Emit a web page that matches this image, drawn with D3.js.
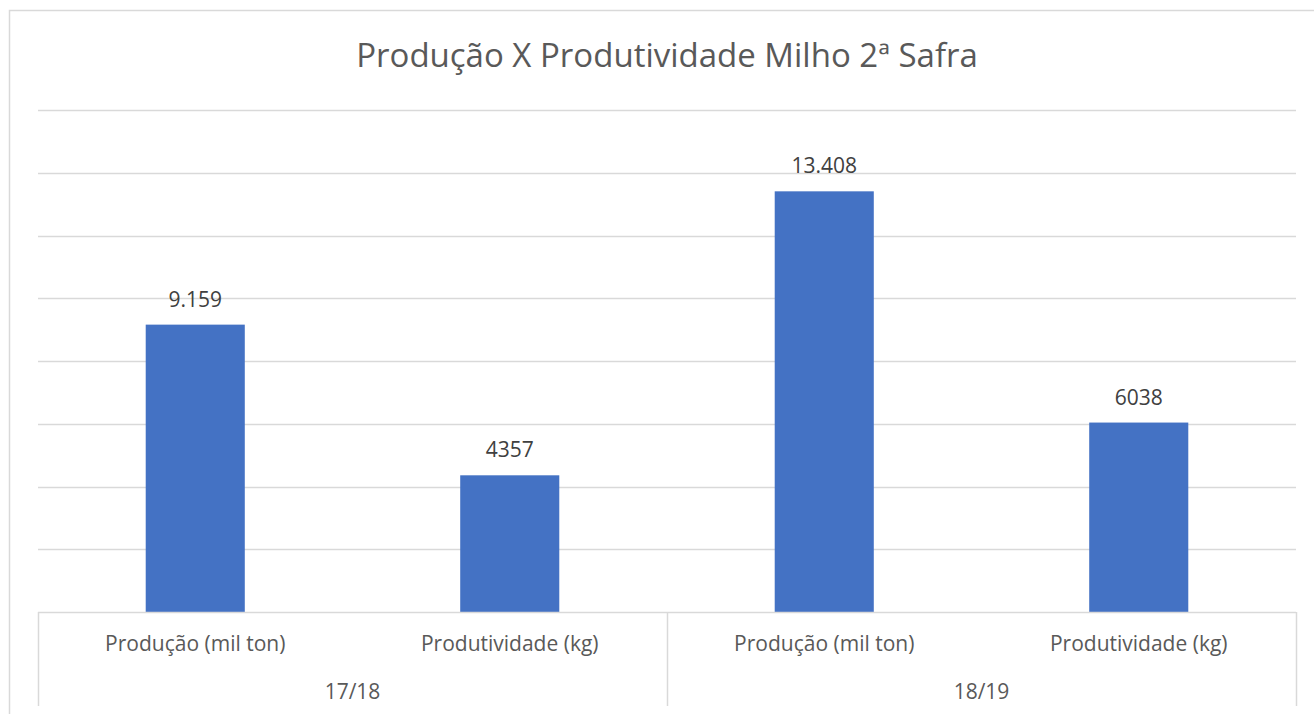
<!DOCTYPE html>
<html>
<head>
<meta charset="utf-8">
<script src="https://cdn.jsdelivr.net/npm/d3@7"></script>
<style>
  body { margin: 0; background: #fff; }
  svg { display: block; font-family: "Open Sans", "Noto Sans", sans-serif; }
</style>
</head>
<body>
<svg width="1314" height="714"></svg>
<script>
// chart data
var groups = ['17/18', '18/19'];
var categories = ['Produção (mil ton)', 'Produtividade (kg)', 'Produção (mil ton)', 'Produtividade (kg)'];
var values = [9159, 4357, 13408, 6038];
var valueLabels = ['9.159', '4357', '13.408', '6038'];
var yTicks = [0, 2000, 4000, 6000, 8000, 10000, 12000, 14000, 16000];

// plot area (note: "top" is taken by window.top)
var plotLeft = 38, plotRight = 1296, plotTop = 110, plotBase = 612;

var svg = d3.select('svg');

// outer chart frame
svg.append('rect')
    .attr('x', 9.5)
    .attr('y', 10.5)
    .attr('width', 1320)
    .attr('height', 720)
    .style('fill', 'none')
    .style('stroke', '#d9d9d9')
    .style('stroke-width', 1.5)

var x = d3.scaleBand()
    .domain(d3.range(values.length))
    .range([plotLeft, plotRight])
    .paddingInner(0.685)
    .paddingOuter(0.3425)

var y = d3.scaleLinear()
    .domain([0, 16000])
    .range([plotBase, plotTop])

// gridlines
svg.append('g')
    .selectAll('line')
    .data(yTicks.slice(1))
    .enter()
    .append('line')
    .attr('x1', plotLeft)
    .attr('x2', plotRight)
    .attr('y1', function(d) { return Math.round(y(d)) + 0.5; })
    .attr('y2', function(d) { return Math.round(y(d)) + 0.5; })
    .style('stroke', '#d9d9d9')
    .style('stroke-width', 1.5)

// title
svg.append('text')
    .text('Produção X Produtividade Milho 2ª Safra')
    .attr('x', (plotLeft + plotRight) / 2)
    .attr('y', 67)
    .attr('text-anchor', 'middle')
    .style('font-size', '33px')
    .style('fill', '#595959')

// bars
svg.append('g')
    .selectAll('rect')
    .data(values)
    .enter()
    .append('rect')
    .attr('x', function(d, i) { return x(i); })
    .attr('width', x.bandwidth())
    .attr('y', function(d) { return y(d); })
    .attr('height', function(d) { return plotBase - y(d); })
    .style('fill', '#4472c4')

// value labels
svg.append('g')
    .selectAll('text')
    .data(values)
    .enter()
    .append('text')
    .text(function(d, i) { return valueLabels[i]; })
    .attr('x', function(d, i) { return x(i) + x.bandwidth() / 2; })
    .attr('y', function(d) { return y(d) - 18; })
    .attr('text-anchor', 'middle')
    .style('font-size', '21px')
    .style('fill', '#404040')

// category axis: baseline, dividers, labels
svg.append('line')
    .attr('x1', plotLeft)
    .attr('x2', plotRight)
    .attr('y1', plotBase + 0.5)
    .attr('y2', plotBase + 0.5)
    .style('stroke', '#d9d9d9')
    .style('stroke-width', 1.5)

var groupWidth = (plotRight - plotLeft) / groups.length;
var dividers = d3.range(groups.length + 1).map(function(i) { return plotLeft + i * groupWidth; });

svg.append('g')
    .selectAll('line')
    .data(dividers)
    .enter()
    .append('line')
    .attr('x1', function(d) { return Math.round(d) + 0.5; })
    .attr('x2', function(d) { return Math.round(d) + 0.5; })
    .attr('y1', plotBase)
    .attr('y2', 706)
    .style('stroke', '#d9d9d9')
    .style('stroke-width', 1.5)

svg.append('g')
    .selectAll('text')
    .data(categories)
    .enter()
    .append('text')
    .text(function(d) { return d; })
    .attr('x', function(d, i) { return x(i) + x.bandwidth() / 2; })
    .attr('y', 651)
    .attr('text-anchor', 'middle')
    .style('font-size', '21px')
    .style('fill', '#595959')

svg.append('g')
    .selectAll('text')
    .data(groups)
    .enter()
    .append('text')
    .text(function(d) { return d; })
    .attr('x', function(d, i) { return plotLeft + (i + 0.5) * groupWidth; })
    .attr('y', 699)
    .attr('text-anchor', 'middle')
    .style('font-size', '21px')
    .style('fill', '#595959')
</script>
</body>
</html>
